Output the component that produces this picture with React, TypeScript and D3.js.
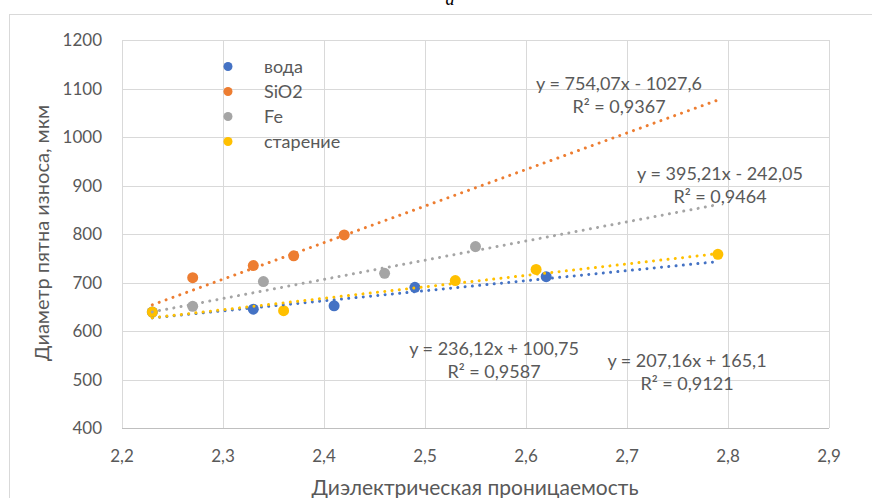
import React from "react";
import * as d3 from "d3";

// Measured series: dielectric permittivity vs. wear-spot diameter (µm)
const vodaX = [2.23, 2.33, 2.41, 2.49, 2.62];
const vodaY = [639, 645, 652, 690, 712];
const sio2X = [2.27, 2.33, 2.37, 2.42];
const sio2Y = [710, 735, 755, 798];
const feX = [2.27, 2.34, 2.46, 2.55];
const feY = [651, 702, 719, 774];
const starenieX = [2.23, 2.36, 2.53, 2.61, 2.79];
const starenieY = [639, 642, 704, 727, 758];

const seriesNames = ["вода", "SiO2", "Fe", "старение"];
const seriesColors = ["#4472C4", "#ED7D31", "#A5A5A5", "#FFC000"];

// Linear trendlines y = a*x + b and their R²
const trendSlope = [207.16, 754.07, 395.21, 236.12];
const trendIntercept = [165.1, -1027.6, -242.05, 100.75];
const trendR2 = ["0,9121", "0,9367", "0,9464", "0,9587"];
const trendRange = [2.23, 2.79];

const xTicks = [2.2, 2.3, 2.4, 2.5, 2.6, 2.7, 2.8, 2.9];
const yTicks = [400, 500, 600, 700, 800, 900, 1000, 1100, 1200];

const xTitle = "Диэлектрическая проницаемость";
const yTitle = "Диаметр пятна износа, мкм";

const fmt = (v: number) => String(Math.abs(v)).replace(".", ",");
const eqText = (i: number) =>
  `y = ${fmt(trendSlope[i])}x ${trendIntercept[i] < 0 ? "-" : "+"} ${fmt(trendIntercept[i])}`;

// Label anchor (center x, baseline y) for each trendline equation
const eqPos = [
  [687, 367],
  [619, 90],
  [720, 180],
  [494, 355],
];

export default function App() {
  const W = 872;
  const H = 498;
  const left = 122;
  const right = 829;
  const top = 40;
  const bottom = 428;

  const x = d3.scaleLinear().domain([2.2, 2.9]).range([left, right]);
  const y = d3.scaleLinear().domain([400, 1200]).range([bottom, top]);

  const xs = [vodaX, sio2X, feX, starenieX];
  const ys = [vodaY, sio2Y, feY, starenieY];

  const trendPath = (i: number) => {
    const pts: [number, number][] = trendRange.map((v) => [
      x(v),
      y(trendSlope[i] * v + trendIntercept[i]),
    ]);
    return d3.line()(pts) as string;
  };

  const font = "Lato, 'Open Sans', sans-serif";
  const textColor = "#595959";

  return (
    <svg
      width={W}
      height={H}
      style={{ position: "absolute", left: 0, top: 0, background: "#fff" }}
      fontFamily={font}
    >
      <rect x={0} y={0} width={W} height={H} fill="#fff" />
      {/* figure letter above the chart frame */}
      <text
        x={450}
        y={5}
        fontFamily="'Liberation Serif', serif"
        fontStyle="italic"
        fontSize={18}
        textAnchor="middle"
        fill="#000"
      >
        а
      </text>
      <rect
        x={9.5}
        y={14.5}
        width={W}
        height={H}
        fill="none"
        stroke="#d9d9d9"
        strokeWidth={1}
      />

      {/* gridlines */}
      <g stroke="#d9d9d9" strokeWidth={1}>
        {yTicks.map((t) => (
          <line
            key={"gy" + t}
            x1={left}
            x2={right}
            y1={Math.round(y(t)) + 0.5}
            y2={Math.round(y(t)) + 0.5}
          />
        ))}
        {xTicks.map((t) => (
          <line
            key={"gx" + t}
            x1={Math.round(x(t)) + 0.5}
            x2={Math.round(x(t)) + 0.5}
            y1={top}
            y2={bottom}
          />
        ))}
      </g>
      <line
        x1={left}
        x2={right}
        y1={bottom + 0.5}
        y2={bottom + 0.5}
        stroke="#bfbfbf"
        strokeWidth={1}
      />

      {/* tick labels */}
      <g fill={textColor} fontSize={17}>
        {yTicks.map((t) => (
          <text key={"ty" + t} x={102} y={y(t) + 6} textAnchor="end">
            {t}
          </text>
        ))}
        {xTicks.map((t) => (
          <text key={"tx" + t} x={x(t)} y={462} textAnchor="middle">
            {fmt(t)}
          </text>
        ))}
      </g>

      {/* axis titles */}
      <text x={475} y={495} textAnchor="middle" fill={textColor} fontSize={21}>
        {xTitle}
      </text>
      <text
        transform={`translate(49, 233) rotate(-90)`}
        textAnchor="middle"
        fill={textColor}
        fontSize={20}
      >
        {yTitle}
      </text>

      {/* markers */}
      {xs.map((sx, si) => (
        <g key={"s" + si} fill={seriesColors[si]}>
          {sx.map((v, j) => (
            <circle key={j} cx={x(v)} cy={y(ys[si][j])} r={5.5} />
          ))}
        </g>
      ))}

      {/* trendlines */}
      {trendSlope.map((_, i) => (
        <path
          key={"tr" + i}
          d={trendPath(i)}
          fill="none"
          stroke={seriesColors[i]}
          strokeWidth={3}
          strokeLinecap="round"
          strokeDasharray="0.01 7.3"
        />
      ))}

      {/* trendline equations */}
      <g fill={textColor} fontSize={18} textAnchor="middle">
        {trendSlope.map((_, i) => (
          <g key={"eq" + i}>
            <text x={eqPos[i][0]} y={eqPos[i][1]}>
              {eqText(i)}
            </text>
            <text x={eqPos[i][0]} y={eqPos[i][1] + 23}>
              {`R² = ${trendR2[i]}`}
            </text>
          </g>
        ))}
      </g>

      {/* legend */}
      <g fontSize={18} fill={textColor}>
        {seriesNames.map((n, i) => (
          <g key={"lg" + i}>
            <circle cx={228} cy={66.5 + i * 25} r={4.5} fill={seriesColors[i]} />
            <text x={264} y={73 + i * 25}>
              {n}
            </text>
          </g>
        ))}
      </g>
    </svg>
  );
}
